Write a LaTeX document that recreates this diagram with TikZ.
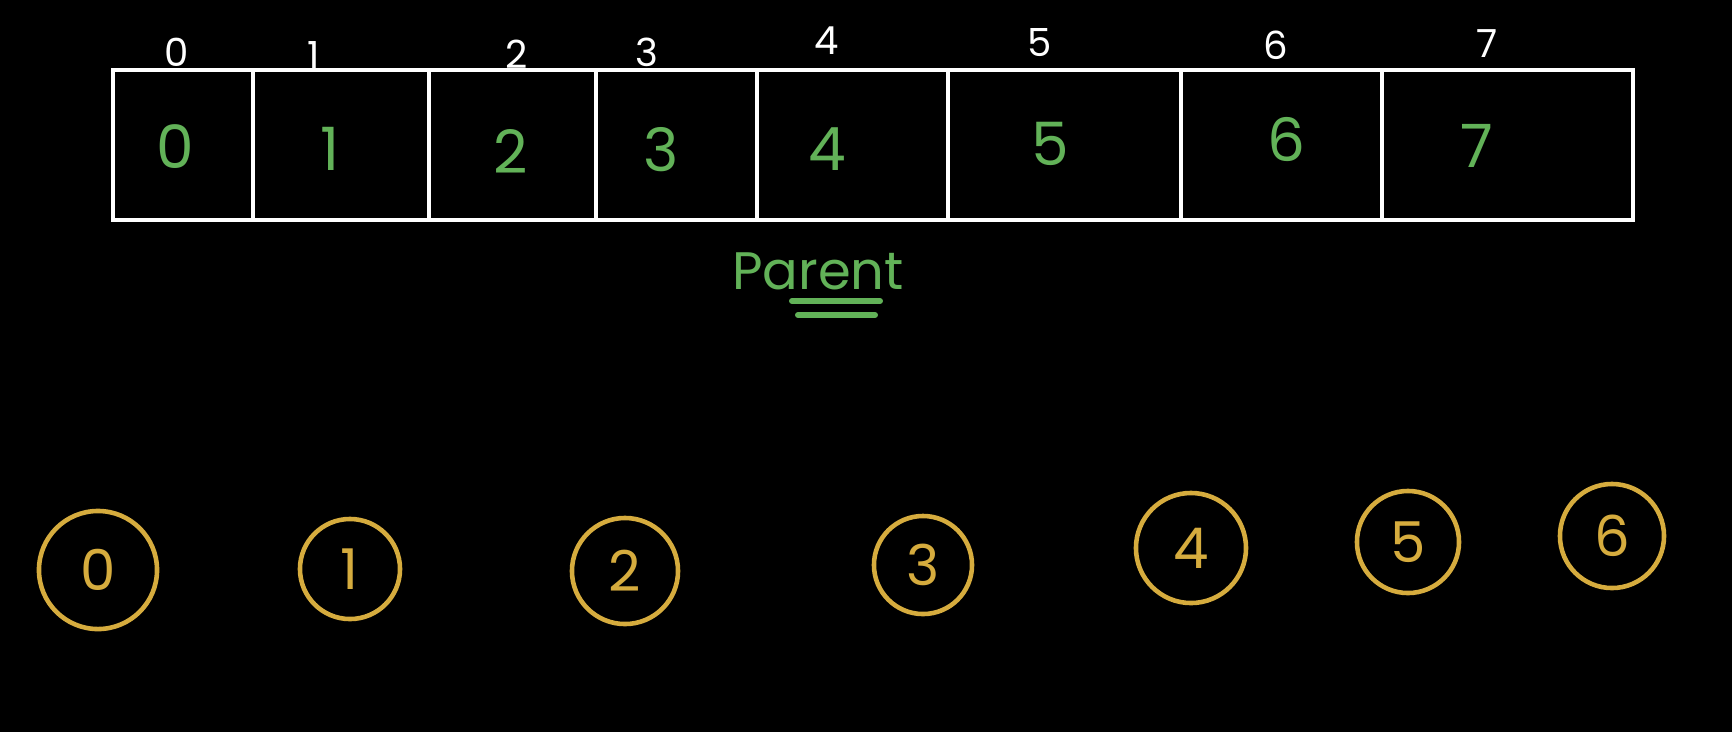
\documentclass[tikz,border=0pt]{standalone}
\usepackage{fontspec}
\setmainfont{Poppins}
\usetikzlibrary{calc}

\definecolor{chalkgreen}{RGB}{98,178,88}
\definecolor{chalkgold}{RGB}{214,172,62}

\tikzset{
    cellline/.style={draw=white, line width=1.3pt},
    idxlabel/.style={text=white, font=\fontsize{11}{13}\selectfont},
    vallabel/.style={text=chalkgreen, font=\fontsize{17}{20}\selectfont},
    vertex/.style={circle, draw=chalkgold, line width=1.3pt, inner sep=0pt,
        text=chalkgold, font=\fontsize{16}{19}\selectfont},
}

\begin{document}
\begin{tikzpicture}[x=0.01cm, y=-0.01cm]
    % background, also fixes the bounding box
    \fill[black] (0,0) rectangle (1732,732);

    % the parent array
    \coordinate (TL) at (113, 70);
    \coordinate (BR) at (1633, 220);
    \draw[cellline] (TL) rectangle (BR);
    \foreach \x in {253, 429, 596, 757, 948, 1181, 1382}
        \draw[cellline] (\x, 70) -- (\x, 220);

    % indices above
    \node[idxlabel] (i0) at (177, 52) {0};
    \node[idxlabel] (i1) at (314, 56) {1};
    \node[idxlabel] (i2) at (517, 54) {2};
    \node[idxlabel] (i3) at (647, 52) {3};
    \node[idxlabel] (i4) at (827, 41) {4};
    \node[idxlabel] (i5) at (1040, 43) {5};
    \node[idxlabel] (i6) at (1276, 45) {6};
    \node[idxlabel] (i7) at (1487, 44) {7};

    % values inside
    \node[vallabel] (v0) at (175, 147) {0};
    \node[vallabel] (v1) at (330, 149) {1};
    \node[vallabel] (v2) at (511, 151) {2};
    \node[vallabel] (v3) at (661, 150) {3};
    \node[vallabel] (v4) at (827, 149) {4};
    \node[vallabel] (v5) at (1050, 144) {5};
    \node[vallabel] (v6) at (1286, 139) {6};
    \node[vallabel] (v7) at (1477, 146) {7};

    % label with double underline
    \node[text=chalkgreen, font=\fontsize{15}{18}\selectfont] (parent) at (818, 271) {Parent};
    \draw[chalkgreen, line width=1.7pt, line cap=round]
        (792, 301) -- (880, 301)
        (798, 315) -- (875, 315);

    % the nodes
    \node[vertex, minimum size=1.18cm] (n0) at (98, 570) {0};
    \node[vertex, minimum size=1.00cm] (n1) at (350, 569) {1};
    \node[vertex, minimum size=1.06cm] (n2) at (625, 571) {2};
    \node[vertex, minimum size=0.98cm] (n3) at (923, 565) {3};
    \node[vertex, minimum size=1.10cm] (n4) at (1191, 548) {4};
    \node[vertex, minimum size=1.02cm] (n5) at (1408, 542) {5};
    \node[vertex, minimum size=1.04cm] (n6) at (1612, 536) {6};
\end{tikzpicture}
\end{document}
